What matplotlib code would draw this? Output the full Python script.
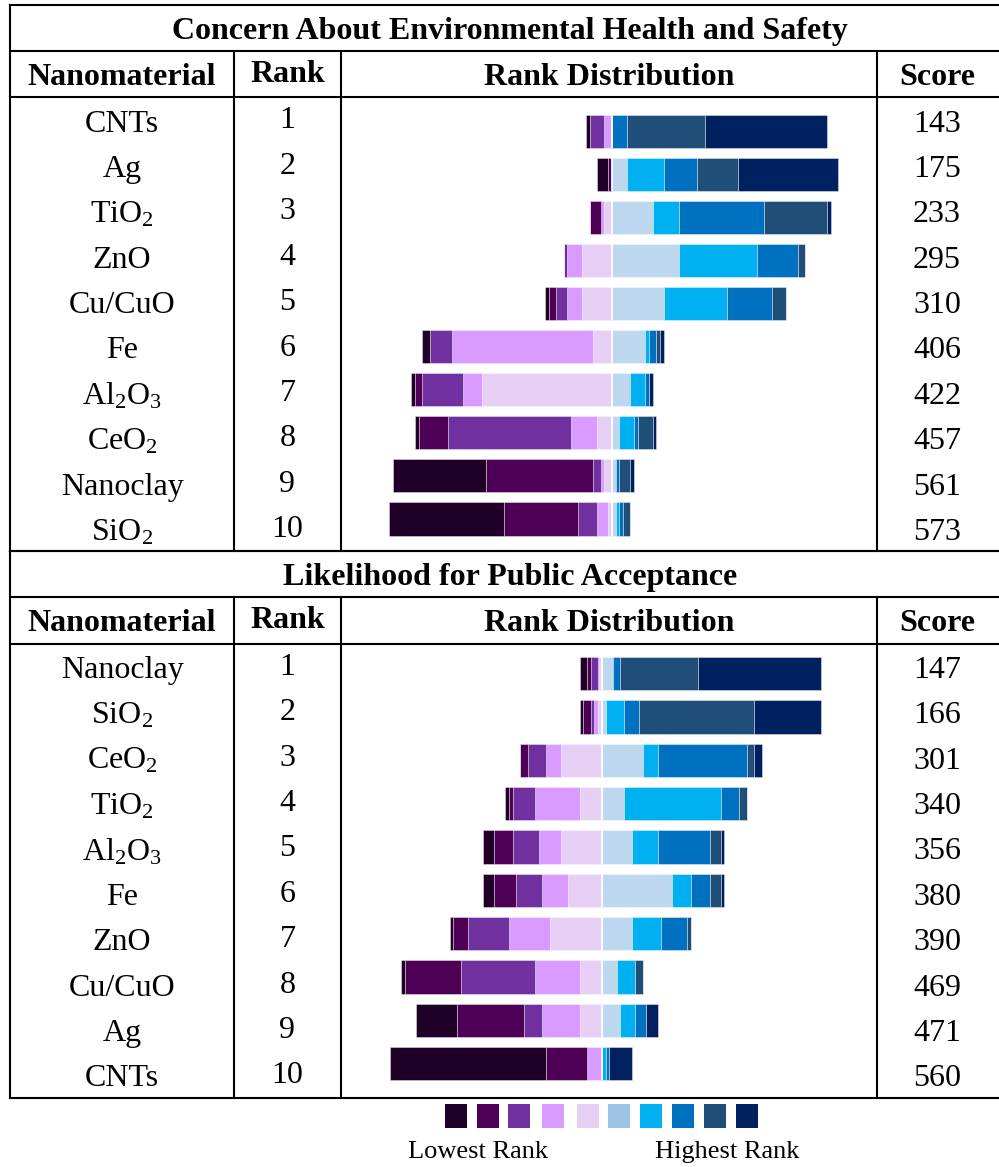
import matplotlib
matplotlib.use("Agg")
import matplotlib.pyplot as plt
from matplotlib.patches import Rectangle
import numpy as np

# Ranking survey: number of respondents placing each nanomaterial at rank 1..10
RANK_COLORS = ["#002060", "#1F4E79", "#0070C0", "#00B0F0", "#BDD7EE",
               "#E6CEF5", "#D99BFF", "#7030A0", "#4E0057", "#200028"]
LEGEND_COLORS = ["#200028", "#4E0057", "#7030A0", "#D99BFF", "#E6CEF5",
                 "#9DC3E6", "#00B0F0", "#0070C0", "#1F4E79", "#002060"]

concern_title = "Concern About Environmental Health and Safety"
concern_names = ["CNTs", "Ag", "TiO$_\\mathrm{2}$", "ZnO", "Cu/CuO", "Fe",
                 "Al$_\\mathrm{2}$O$_\\mathrm{3}$", "CeO$_\\mathrm{2}$", "Nanoclay",
                 "SiO$_\\mathrm{2}$"]
concern_counts = [
    [33, 21, 4, 0, 0, 0, 2, 4, 0, 1],
    [27, 11, 9, 10, 4, 0, 0, 0, 1, 3],
    [1, 17, 23, 7, 11, 2, 1, 0, 3, 0],
    [0, 2, 11, 21, 18, 8, 4, 1, 0, 0],
    [0, 4, 12, 17, 14, 8, 4, 3, 2, 1],
    [1, 1, 2, 1, 9, 5, 38, 6, 0, 2],
    [1, 0, 1, 4, 5, 35, 5, 11, 2, 1],
    [1, 4, 1, 4, 2, 4, 7, 33, 8, 1],
    [1, 3, 1, 0, 1, 2, 1, 2, 29, 25],
    [0, 2, 1, 1, 1, 1, 3, 5, 20, 31],
]
concern_scores = [143, 175, 233, 295, 310, 406, 422, 457, 561, 573]

accept_title = "Likelihood for Public Acceptance"
accept_names = ["Nanoclay", "SiO$_\\mathrm{2}$", "CeO$_\\mathrm{2}$", "TiO$_\\mathrm{2}$",
                "Al$_\\mathrm{2}$O$_\\mathrm{3}$", "Fe", "ZnO", "Cu/CuO", "Ag", "CNTs"]
accept_counts = [
    [33, 21, 2, 0, 3, 1, 0, 2, 1, 2],
    [18, 31, 4, 5, 1, 1, 1, 1, 2, 1],
    [2, 2, 24, 4, 11, 11, 4, 5, 2, 0],
    [0, 2, 5, 26, 6, 6, 12, 6, 1, 1],
    [1, 3, 14, 7, 8, 11, 6, 7, 5, 3],
    [1, 3, 5, 5, 19, 9, 7, 7, 6, 3],
    [0, 1, 7, 8, 8, 14, 11, 11, 4, 1],
    [0, 2, 0, 5, 4, 6, 12, 20, 15, 1],
    [3, 0, 3, 4, 5, 6, 10, 5, 18, 11],
    [6, 0, 1, 1, 0, 0, 4, 0, 11, 42],
]
accept_scores = [147, 166, 301, 340, 356, 380, 390, 469, 471, 560]

W, H = 999, 1167
PX_PER_COUNT = 3.715
FONT = "Liberation Serif"
FS = 23
LW = 1.5

plt.rcParams["font.family"] = FONT
plt.rcParams["mathtext.fontset"] = "custom"
plt.rcParams["mathtext.rm"] = FONT
plt.rcParams["mathtext.it"] = FONT + ":italic"
plt.rcParams["mathtext.bf"] = FONT + ":bold"


def px_axes(fig, x0, y0, x1, y1):
    """Axes placed by pixel box (y measured from top)."""
    return fig.add_axes([x0 / W, 1 - y1 / H, (x1 - x0) / W, (y1 - y0) / H])


def draw_bars(fig, counts, center_px, y_top, y_bot, first_px, step_px):
    ax = px_axes(fig, 341, y_top, 876, y_bot)
    ax.set_xlim(-(center_px - 341) / PX_PER_COUNT, (876 - center_px) / PX_PER_COUNT)
    ax.set_ylim((y_bot - first_px) / step_px, (y_top - first_px) / step_px)
    ax.axis("off")
    data = np.array(counts)
    rows = np.arange(len(data))
    height = 33.3 / step_px
    # ranks 6-10 grow to the left, ranks 5-1 grow to the right
    left_start = np.zeros(len(data))
    for k in range(6, 11):
        w = data[:, k - 1]
        ax.barh(rows, -w, left=-left_start, height=height, color=RANK_COLORS[k - 1],
                edgecolor=(1, 1, 1, 0.55), linewidth=0.5)
        left_start += w
    right_start = np.zeros(len(data))
    for k in range(5, 0, -1):
        w = data[:, k - 1]
        ax.barh(rows, w, left=right_start, height=height, color=RANK_COLORS[k - 1],
                edgecolor=(1, 1, 1, 0.55), linewidth=0.5)
        right_start += w
    # thin white split between the two halves, only across the bars
    ax.vlines(np.zeros(len(rows)), rows - height / 2, rows + height / 2,
              color="white", lw=1.25)


def draw_section(ax, title, names, scores, y0):
    # y0: top line of the title row
    title_bot = y0 + 46
    head_bot = title_bot + 46.3
    row_h = 45.4
    data_bot = head_bot + row_h * len(names)
    kw = dict(color="black", lw=LW, solid_capstyle="projecting")
    for y in (y0, title_bot, head_bot, data_bot):
        ax.plot([10, W], [y, y], **kw)
    for x in (234.3, 340.7, 877):
        ax.plot([x, x], [title_bot, data_bot], **kw)
    ax.plot([10, 10], [y0, data_bot], **kw)

    ax.text(510, (y0 + title_bot) / 2 + 3, title, ha="center", va="center",
            fontsize=FS, fontweight="bold")
    hy = (title_bot + head_bot) / 2
    ax.text(122, hy + 3, "Nanomaterial", ha="center", va="center", fontsize=FS, fontweight="bold")
    ax.text(287.5, hy + 0.5, "Rank", ha="center", va="center", fontsize=FS, fontweight="bold")
    ax.text(609, hy + 3, "Rank Distribution", ha="center", va="center", fontsize=FS, fontweight="bold")
    ax.text(937, hy + 3, "Score", ha="center", va="center", fontsize=FS, fontweight="bold")
    for i, (name, score) in enumerate(zip(names, scores)):
        cy = head_bot + row_h * (i + 0.5)
        ax.text(122, cy + 4, name, ha="center", va="center", fontsize=FS)
        ax.text(287.5, cy + 1, str(i + 1), ha="center", va="center", fontsize=FS)
        ax.text(937, cy + 4, str(score), ha="center", va="center", fontsize=FS)
    return head_bot, data_bot


def main():
    fig = plt.figure(figsize=(W / 100, H / 100), dpi=100)
    bg = fig.add_axes([0, 0, 1, 1])
    bg.set_xlim(0, W)
    bg.set_ylim(H, 0)
    bg.axis("off")

    top_head, top_bot = draw_section(bg, concern_title, concern_names, concern_scores, 5)
    bot_head, bot_bot = draw_section(bg, accept_title, accept_names, accept_scores, top_bot)

    draw_bars(fig, concern_counts, 611.85, top_head, top_bot, 131.6, 43.03)
    draw_bars(fig, accept_counts, 601.85, bot_head, bot_bot, 673.7, 43.33)

    # colour key below the table
    key_x = [455.8, 488, 519, 553, 588, 619, 651, 683, 715, 747]
    for cx, c in zip(key_x, LEGEND_COLORS):
        bg.add_patch(Rectangle((cx - 11, 1104), 22, 24, color=c, lw=0))
    bg.text(477.5, 1152, "Lowest Rank", ha="center", va="center", fontsize=19)
    bg.text(727.5, 1152, "Highest Rank", ha="center", va="center", fontsize=19)

    fig.savefig("out.png", dpi=100)
    plt.close(fig)


if __name__ == "__main__":
    main()
